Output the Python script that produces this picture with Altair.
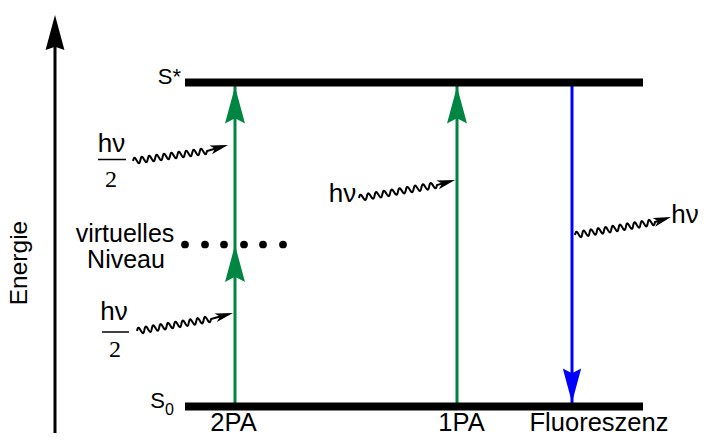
import math
import altair as alt
import numpy as np
import pandas as pd

# ---------------- data (energy diagram) ----------------
level_labels = ["S*", "S"]
level_energy = [1.0, 0.0]
level_x_range = [185, 643]
virtual_energy = 0.5
virtual_dots_x = [185, 205, 224, 244, 263, 283]

transition_labels = ["2PA", "1PA", "Fluoreszenz"]
transition_x = [235, 457, 572]
transition_from = [0.0, 0.0, 1.0]
transition_to = [1.0, 1.0, 0.0]
transition_colors = ["#008542", "#008542", "#0000ff"]
transition_label_x = [233.5, 461.5, 599]

# photons (wavy arrows): start, end of wave, arrow tip  (layout px)
photon_start = [(133, 161), (137, 331), (359, 198), (575, 235)]
photon_wave_end = [(207, 151), (211, 319), (437, 185), (655, 222)]
photon_tip = [(228, 145), (233, 313), (455, 180), (671, 217)]

# ---------------- layout ----------------
W, H = 691, 425
X_DOM = [8, 699]
PX_PER_E = 324.0
Y_S0 = 406.5
E_DOM = [(Y_S0 - 433) / PX_PER_E, (Y_S0 - 8) / PX_PER_E]
FONT = "Liberation Sans"


def e_of(py):
    return (Y_S0 - py) / PX_PER_E


def py_of(e):
    return Y_S0 - e * PX_PER_E


xs = alt.Scale(domain=X_DOM, nice=False, zero=False)
ys = alt.Scale(domain=E_DOM, nice=False, zero=False)

GREEN_HEAD = "M0,-1L0.54,1L0,0.72L-0.54,1Z"
AXIS_HEAD = "M0,-1L0.54,1L0,0.82L-0.54,1Z"
SMALL_HEAD = "M0,-1L0.5,1L0,0.5L-0.5,1Z"


def head_row(tipx, tipy, dx, dy, length):
    L = math.hypot(dx, dy)
    ux, uy = dx / L, dy / L
    cx, cy = tipx - ux * length / 2, tipy - uy * length / 2
    ang = math.degrees(math.atan2(ux, -uy)) % 360
    return {"x": cx, "e": e_of(cy), "angle": ang, "size": length ** 2}


# levels
levels_df = pd.DataFrame({"x": [level_x_range[0]] * 2, "x2": [level_x_range[1]] * 2,
                          "e": level_energy, "label": level_labels})
levels = alt.Chart(levels_df).mark_rule(strokeWidth=8, color="black", strokeCap="butt").encode(
    x=alt.X("x:Q", scale=xs, axis=None), x2="x2:Q", y=alt.Y("e:Q", scale=ys, axis=None))

# transitions
half_bar = 4 / PX_PER_E
trans_df = pd.DataFrame({"x": transition_x, "e1": transition_from, "e2": transition_to,
                         "c": transition_colors})
trans = alt.Chart(trans_df).mark_rule(strokeWidth=3, strokeCap="butt").encode(
    x=alt.X("x:Q", scale=xs, axis=None), y=alt.Y("e1:Q", scale=ys, axis=None), y2="e2:Q",
    color=alt.Color("c:N", scale=None))

heads = []
GREEN_LEN, BLUE_LEN = 37, 34
for x, e0, e1, c in zip(transition_x, transition_from, transition_to, transition_colors):
    tip_e = e1 - half_bar if e1 > e0 else e1 + half_bar
    d = -1 if e1 > e0 else 1
    r = head_row(x, py_of(tip_e), 0, d, GREEN_LEN if e1 > e0 else BLUE_LEN)
    r["c"] = c
    heads.append(r)
# head at the virtual level for 2PA
r = head_row(transition_x[0], py_of(virtual_energy) + 0.5, 0, -1, GREEN_LEN)
r["c"] = transition_colors[0]
heads.append(r)
heads_df = pd.DataFrame(heads)
trans_heads = alt.Chart(heads_df).mark_point(shape=GREEN_HEAD, filled=True, opacity=1,
                                             strokeWidth=0).encode(
    x=alt.X("x:Q", scale=xs, axis=None), y=alt.Y("e:Q", scale=ys, axis=None),
    angle=alt.Angle("angle:Q", scale=None), size=alt.Size("size:Q", scale=None),
    color=alt.Color("c:N", scale=None))

# virtual level dots
dots_df = pd.DataFrame({"x": virtual_dots_x, "e": [virtual_energy] * len(virtual_dots_x)})
dots = alt.Chart(dots_df).mark_circle(size=60, color="black", opacity=1).encode(
    x=alt.X("x:Q", scale=xs, axis=None), y=alt.Y("e:Q", scale=ys, axis=None))

# energy axis
axis_df = pd.DataFrame({"x": [55], "e1": [e_of(433)], "e2": [e_of(46)]})
axis_line = alt.Chart(axis_df).mark_rule(strokeWidth=3, color="black", strokeCap="butt").encode(
    x=alt.X("x:Q", scale=xs, axis=None), y=alt.Y("e1:Q", scale=ys, axis=None), y2="e2:Q")
axis_head_df = pd.DataFrame([head_row(55, 15, 0, -1, 35)])
axis_head = alt.Chart(axis_head_df).mark_point(shape=AXIS_HEAD, filled=True, opacity=1,
                                               strokeWidth=0, color="black").encode(
    x=alt.X("x:Q", scale=xs, axis=None), y=alt.Y("e:Q", scale=ys, axis=None),
    angle=alt.Angle("angle:Q", scale=None), size=alt.Size("size:Q", scale=None))

# photons
wave_rows, small_heads = [], []
for k, ((x0, y0), (x1, y1), (xt, yt)) in enumerate(zip(photon_start, photon_wave_end, photon_tip)):
    L = math.hypot(x1 - x0, y1 - y0)
    ux, uy = (x1 - x0) / L, (y1 - y0) / L
    nx, ny = uy, -ux
    n = max(1, round(L / 7.6))
    t = np.linspace(0, 1, n * 16 + 1)
    off = 3.0 * np.sin(2 * np.pi * n * t)
    px = x0 + t * (x1 - x0) + nx * off
    py = y0 + t * (y1 - y0) + ny * off
    HL = 18
    dx, dy = xt - x1, yt - y1
    D = math.hypot(dx, dy)
    bx, by = xt - dx / D * HL * 0.7, yt - dy / D * HL * 0.7
    px = list(px) + [bx]
    py = list(py) + [by]
    for i, (a, b) in enumerate(zip(px, py)):
        wave_rows.append({"id": k, "o": i, "x": a, "e": e_of(b)})
    small_heads.append(head_row(xt, yt, dx, dy, HL))
waves = alt.Chart(pd.DataFrame(wave_rows)).mark_line(strokeWidth=2, color="black").encode(
    x=alt.X("x:Q", scale=xs, axis=None), y=alt.Y("e:Q", scale=ys, axis=None),
    detail="id:N", order="o:Q")
photon_heads = alt.Chart(pd.DataFrame(small_heads)).mark_point(
    shape=SMALL_HEAD, filled=True, opacity=1, strokeWidth=0, color="black").encode(
    x=alt.X("x:Q", scale=xs, axis=None), y=alt.Y("e:Q", scale=ys, axis=None),
    angle=alt.Angle("angle:Q", scale=None), size=alt.Size("size:Q", scale=None))

# fraction bars for hv/2
frac_df = pd.DataFrame({"x": [98, 102], "x2": [126, 129], "e": [e_of(159.5), e_of(332)]})
frac = alt.Chart(frac_df).mark_rule(strokeWidth=1.5, color="black").encode(
    x=alt.X("x:Q", scale=xs, axis=None), x2="x2:Q", y=alt.Y("e:Q", scale=ys, axis=None))


def text_layer(rows, **kw):
    df = pd.DataFrame(rows, columns=["x", "py", "t"])
    df["e"] = df["py"].map(e_of)
    base = dict(font=FONT, color="black", baseline="alphabetic", align="center")
    base.update(kw)
    return alt.Chart(df).mark_text(**base).encode(
        x=alt.X("x:Q", scale=xs, axis=None), y=alt.Y("e:Q", scale=ys, axis=None), text="t:N")


labels_bottom = text_layer(
    [(tx, 431, tl) for tx, tl in zip(transition_label_x, transition_labels)], fontSize=25.5)
labels_virtual = text_layer([(125, 242, "virtuelles"), (126, 268, "Niveau")], fontSize=25)
hv_text = text_layer([(342.5, 202, "hν"), (685, 223, "hν"), (111.5, 152, "hν"), (114, 320, "hν")],
                     fontSize=26)
two_text = text_layer([(111, 187, "2"), (115, 357, "2")], fontSize=24, font="Liberation Serif")
s_star = text_layer([(181, 84, level_labels[0])], fontSize=22, align="right")
s0 = text_layer([(165, 408, level_labels[1])], fontSize=22, align="right")
s0_sub = text_layer([(165, 415, "0")], fontSize=16, align="left")
energie = text_layer([(20, 263, "Energie")], fontSize=24.5, angle=270, baseline="middle")

chart = alt.layer(
    axis_line, axis_head, trans, trans_heads, levels, dots, waves, photon_heads, frac,
    labels_bottom, labels_virtual, hv_text, two_text, s_star, s0, s0_sub, energie
).properties(width=W, height=H, padding=0, autosize=alt.AutoSizeParams(type="none"),
             background="white").configure_view(stroke=None)

chart.save("out.html", embed_options={"renderer": "svg", "actions": False})
